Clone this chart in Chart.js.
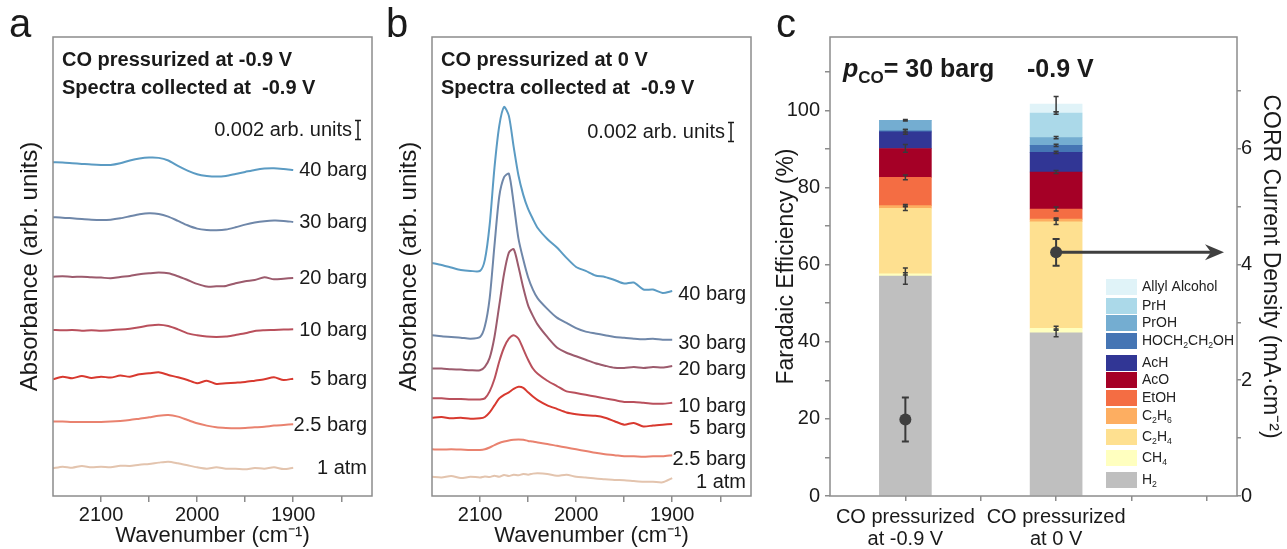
<!DOCTYPE html>
<html lang="en">
<head>
<meta charset="UTF-8" />
<title>CO pressure: IR spectra and Faradaic efficiency</title>
<script src="https://cdn.jsdelivr.net/npm/chart.js"></script>
<style>
  body { margin: 0; background: #fff; }
  #wrap { position: relative; width: 1287px; height: 549px; overflow: hidden; }
  canvas { position: absolute; top: 0; }
  #chartA { left: 0; }
  #chartB { left: 379px; }
  #chartC { left: 770px; }
</style>
</head>
<body>
<div id="wrap">
  <canvas id="chartA" width="390" height="549"></canvas>
  <canvas id="chartB" width="390" height="549"></canvas>
  <canvas id="chartC" width="517" height="549"></canvas>
</div>

<script>
  const FONT = "'Liberation Sans', Arial, sans-serif";
  const INK = '#1a1a1a';
  const FRAME = '#8c8c8c';
  Chart.defaults.font.family = FONT;
  Chart.defaults.color = INK;

  // ---- panels a and b: offset spectra, values in 1e-3 arb. units
  const traceLabels = ['40 barg', '30 barg', '20 barg', '10 barg', '5 barg', '2.5 barg', '1 atm'];
  const traceColors = ['#5b9bc3', '#6f87a9', '#9c5b6d', '#b9505c', '#d8392f', '#e9826f', '#e3c4ae'];
  const wnTickVals = [2100, 2050, 2000, 1950, 1900, 1850];

  const wnA = [2150, 2140, 2130, 2120, 2110, 2100, 2090, 2080, 2070, 2060, 2050, 2040, 2030,
               2020, 2010, 2000, 1990, 1980, 1970, 1960, 1950, 1940, 1930, 1920, 1910, 1900];
  const a40 = [34.90, 34.87, 34.80, 34.73, 34.66, 34.62, 34.62, 34.80, 35.08, 35.29, 35.39, 35.36, 35.08,
               34.52, 34.03, 33.65, 33.47, 33.40, 33.47, 33.68, 33.89, 34.10, 34.24, 34.27, 34.20, 34.10];
  const a30 = [29.15, 29.11, 29.04, 28.97, 28.90, 28.87, 28.90, 29.04, 29.25, 29.46, 29.57, 29.50, 29.22,
               28.77, 28.31, 27.96, 27.82, 27.79, 27.86, 28.10, 28.38, 28.59, 28.73, 28.80, 28.77, 28.66];
  const a20 = [22.94, 22.98, 22.91, 22.94, 22.87, 22.84, 22.77, 22.91, 23.01, 23.19, 23.29, 23.36, 23.29,
               22.98, 22.59, 22.18, 21.90, 21.93, 21.97, 22.25, 22.46, 22.59, 22.87, 22.66, 22.73, 22.80];
  const a10 = [17.36, 17.33, 17.36, 17.29, 17.33, 17.29, 17.33, 17.40, 17.50, 17.64, 17.82, 17.92, 17.78,
               17.43, 17.01, 16.81, 16.67, 16.63, 16.67, 16.84, 17.01, 17.26, 17.33, 17.36, 17.40, 17.43];
  const a5 = [12.20, 12.48, 12.31, 12.55, 12.34, 12.48, 12.38, 12.59, 12.48, 12.73, 12.83, 12.94, 12.66,
              12.41, 12.13, 11.79, 12.06, 11.72, 11.79, 11.85, 11.92, 12.06, 12.20, 12.41, 12.13, 12.27];
  const a2_5 = [7.78, 7.78, 7.74, 7.74, 7.74, 7.74, 7.78, 7.85, 7.95, 8.09, 8.23, 8.40, 8.47,
                8.30, 7.95, 7.60, 7.36, 7.18, 7.11, 7.08, 7.11, 7.18, 7.25, 7.36, 7.43, 7.50];
  const a1 = [2.89, 3.07, 2.96, 3.14, 3.00, 3.07, 3.00, 3.17, 3.14, 3.28, 3.35, 3.49, 3.59,
              3.42, 3.21, 3.00, 2.86, 3.00, 2.86, 2.86, 2.79, 2.93, 2.86, 3.00, 2.82, 2.96];

  const wnB = [2150, 2140, 2130, 2120, 2110, 2100, 2095, 2090, 2085, 2080, 2075, 2070, 2065, 2060, 2055, 2050,
               2045, 2040, 2030, 2020, 2010, 2000, 1990, 1980, 1970, 1960, 1950, 1940, 1930, 1920, 1910, 1900];
  const b40 = [24.37, 24.16, 23.90, 23.64, 23.54, 23.54, 24.69, 28.35, 34.31, 38.70, 40.69, 39.75, 36.51, 33.52, 31.49, 30.02,
               28.97, 28.03, 26.88, 25.99, 24.90, 23.95, 23.54, 23.06, 22.91, 22.59, 22.22, 22.32, 21.59, 21.59, 21.23, 21.44];
  const b30 = [16.82, 16.71, 16.63, 16.56, 16.45, 16.63, 17.74, 20.67, 26.18, 31.32, 33.34, 33.71, 30.59, 26.91, 24.72, 22.88,
               21.59, 20.67, 19.57, 18.65, 18.11, 17.55, 17.19, 17.00, 16.82, 16.63, 16.56, 16.45, 16.38, 16.45, 16.34, 16.34];
  const b20 = [13.33, 13.33, 13.25, 13.22, 13.15, 13.15, 13.51, 14.44, 16.63, 19.94, 23.24, 25.45, 25.82, 23.97, 21.78, 19.94,
               18.84, 17.92, 16.63, 15.53, 14.98, 14.61, 14.25, 13.88, 13.63, 13.41, 13.39, 13.49, 13.39, 13.49, 13.44, 13.60];
  const b10 = [10.21, 10.21, 10.14, 10.14, 10.10, 10.10, 10.21, 10.94, 12.23, 14.07, 15.53, 16.45, 16.82, 16.45, 15.36, 14.25,
               13.33, 12.78, 12.05, 11.50, 10.94, 10.77, 10.58, 10.40, 10.21, 10.03, 9.84, 9.84, 9.74, 9.65, 9.65, 9.74];
  const b5 = [8.19, 8.26, 8.12, 8.19, 8.09, 8.12, 8.26, 8.74, 9.48, 10.21, 10.58, 10.84, 11.20, 11.42, 11.31, 10.84,
              10.40, 10.03, 9.48, 9.11, 8.74, 8.56, 8.45, 8.38, 8.19, 7.82, 7.46, 7.64, 7.27, 7.38, 7.46, 7.53];
  const b2_5 = [4.88, 4.85, 4.88, 4.85, 4.81, 4.81, 4.88, 5.07, 5.32, 5.54, 5.69, 5.81, 5.88, 5.91, 5.88, 5.76,
                5.69, 5.59, 5.44, 5.25, 5.07, 4.88, 4.71, 4.52, 4.37, 4.27, 4.15, 4.15, 4.11, 4.15, 4.15, 4.27];
  const b1 = [2.01, 1.94, 2.09, 1.87, 2.01, 1.94, 2.05, 1.98, 2.12, 2.01, 2.20, 2.09, 2.23, 2.16, 2.31, 2.23,
              2.34, 2.38, 2.31, 2.12, 2.23, 2.01, 1.94, 1.83, 1.76, 1.68, 1.65, 1.57, 1.50, 1.50, 1.43, 1.87];

  // ---- panel c: Faradaic efficiency (%) per product, CORR current density (mA cm-2)
  const categories = [['CO pressurized', 'at -0.9 V'], ['CO pressurized', 'at 0 V']];
  const catPos = [1, 2];
  const products = ['H2', 'CH4', 'C2H4', 'C2H6', 'EtOH', 'AcO', 'AcH', 'HOCH2CH2OH', 'PrOH', 'PrH', 'Allyl Alcohol'];
  const productColors = ['#bfbfbf', '#ffffbf', '#fee090', '#fdae61', '#f46d43', '#a50026',
                         '#313695', '#4575b4', '#74add1', '#abd9e9', '#e0f3f8'];
  const fe1 = [57.0, 0.6, 17.0, 0.7, 7.3, 7.5, 4.3, 0.3, 2.7, 0, 0];
  const fe2 = [42.3, 1.2, 27.6, 0.7, 2.6, 9.6, 5.1, 1.8, 2.0, 6.4, 2.3];
  const feErr1 = [2.1, 0.3, 0.6, 0.3, 0.6, 1.0, 0.6, 0.3, 0.2, 0, 0];
  const feErr2 = [1.0, 0.5, 0.7, 0.3, 0.5, 0.4, 0.3, 0.3, 0.3, 0.3, 2.0];
  const jCorr = [1.32, 4.21];
  const jErr = [0.38, 0.23];
  const feTickVals = [0, 10, 20, 30, 40, 50, 60, 70, 80, 90, 100, 110];
  const jTickVals = [0, 1, 2, 3, 4, 5, 6, 7];

  function errBar(ctx, x, y0, y1, cap) {
    ctx.beginPath();
    ctx.moveTo(x, y0); ctx.lineTo(x, y1);
    ctx.moveTo(x - cap, y0); ctx.lineTo(x + cap, y0);
    ctx.moveTo(x - cap, y1); ctx.lineTo(x + cap, y1);
    ctx.stroke();
  }

  // draws formula text with digits as subscripts (C2H4 -> C₂H₄)
  function chemText(ctx, str, x, y, size) {
    let cx = x;
    for (let i = 0; i < str.length; i++) {
      const ch = str[i];
      const sub = /[0-9]/.test(ch) && i > 0 && /[A-Za-z]/.test(str[i - 1]);
      ctx.font = (sub ? size * 0.62 : size) + 'px ' + FONT;
      ctx.fillText(ch, cx, sub ? y + size * 0.3 : y);
      cx += ctx.measureText(ch).width;
    }
  }

  function spectraChart(id, letter, wn, traces, titleLines, deco) {
    const datasets = traces.map((vals, i) => ({
      label: traceLabels[i],
      data: wn.map((w, k) => ({ x: w, y: vals[k] })),
      borderColor: traceColors[i],
      borderWidth: 2,
      pointRadius: 0,
      tension: 0.25,
      fill: false
    }));

    const decoPlugin = {
      id: 'deco',
      afterDraw(chart) {
        const { ctx, chartArea: ca, scales: { y } } = chart;
        ctx.save();
        ctx.strokeStyle = FRAME;
        ctx.lineWidth = 1.5;
        ctx.strokeRect(ca.left, ca.top, ca.right - ca.left, ca.bottom - ca.top);

        ctx.fillStyle = INK;
        ctx.textAlign = 'left';
        ctx.textBaseline = 'alphabetic';
        ctx.font = '40px ' + FONT;
        ctx.fillText(letter, deco.letterX, 37);

        ctx.textBaseline = 'middle';
        ctx.font = 'bold 20px ' + FONT;
        titleLines.forEach((t, i) => ctx.fillText(t, ca.left + 9, 60 + i * 28));

        // 0.002 scale bar
        const bx = ca.right - deco.barGap;
        const half = Math.abs(y.getPixelForValue(2) - y.getPixelForValue(0)) / 2;
        ctx.font = '20px ' + FONT;
        ctx.textAlign = 'right';
        ctx.fillText('0.002 arb. units', bx - 6, deco.barY);
        ctx.strokeStyle = INK;
        ctx.lineWidth = 1.5;
        errBar(ctx, bx, deco.barY - half, deco.barY + half, 3);

        traces.forEach((vals, i) => {
          const py = y.getPixelForValue(vals[vals.length - 1]) + deco.labelDy;
          ctx.fillText(traceLabels[i], ca.right - 5, py);
        });
        ctx.restore();
      }
    };

    return new Chart(document.getElementById(id), {
      type: 'line',
      data: { datasets },
      options: {
        responsive: false,
        animation: false,
        devicePixelRatio: 1,
        layout: { padding: { top: 37, right: 18, left: 0, bottom: 0 } },
        plugins: { legend: { display: false }, tooltip: { enabled: false } },
        scales: {
          x: {
            type: 'linear', reverse: true, min: 1818, max: 2150,
            afterFit: s => { s.height = 53; },
            afterBuildTicks: s => { s.ticks = wnTickVals.map(v => ({ value: v })); },
            ticks: {
              autoSkip: false, maxRotation: 0, padding: 1, color: INK,
              font: { size: 20 },
              callback: v => (v % 100 === 0 ? String(v) : '')
            },
            grid: { drawOnChartArea: false, tickLength: 6, color: FRAME, lineWidth: 1.5 },
            border: { display: false },
            title: {
              display: true, text: 'Wavenumber (cm⁻¹)', color: INK,
              font: { size: 22 }, padding: { top: 0, bottom: 0 }
            }
          },
          y: {
            min: 0, max: 48,
            afterFit: s => { s.width = 53; },
            ticks: { display: false },
            grid: { display: false },
            border: { display: false },
            title: {
              display: true, text: 'Absorbance (arb. units)', color: INK,
              font: { size: 24 }, padding: { top: 16, bottom: 0 }
            }
          }
        }
      },
      plugins: [decoPlugin]
    });
  }

  spectraChart('chartA', 'a', wnA, [a40, a30, a20, a10, a5, a2_5, a1],
    ['CO pressurized at -0.9 V', 'Spectra collected at  -0.9 V'],
    { letterX: 9, barGap: 14, barY: 130, labelDy: 1 });

  spectraChart('chartB', 'b', wnB, [b40, b30, b20, b10, b5, b2_5, b1],
    ['CO pressurized at 0 V', 'Spectra collected at  -0.9 V'],
    { letterX: 7, barGap: 20, barY: 132, labelDy: 4 });

  // ---- panel c
  const feDatasets = products.map((p, i) => ({
    type: 'bar',
    label: p,
    data: catPos.map((c, k) => ({ x: c, y: (k === 0 ? fe1 : fe2)[i] })),
    backgroundColor: productColors[i],
    borderWidth: 0,
    barThickness: 52,
    stack: 'fe',
    yAxisID: 'y',
    order: 1
  }));

  const jDataset = {
    type: 'scatter',
    label: 'CORR current density',
    data: catPos.map((c, k) => ({ x: c, y: jCorr[k] })),
    yAxisID: 'y2',
    pointRadius: 6,
    pointBackgroundColor: '#3f3f3f',
    pointBorderWidth: 0,
    order: 0
  };

  const legendRows = [287, 306, 323, 341, 363, 380, 398, 416, 437, 458, 480];

  const fePlugin = {
    id: 'feDeco',
    beforeDatasetDraw(chart, args) {
      if (args.meta.type !== 'scatter') return;
      const { ctx, chartArea: ca, scales: { x, y, y2 } } = chart;
      ctx.save();
      ctx.strokeStyle = '#3a3a3a';
      ctx.lineWidth = 1.5;
      [fe1, fe2].forEach((fe, k) => {
        const err = k === 0 ? feErr1 : feErr2;
        const px = x.getPixelForValue(catPos[k]);
        let cum = 0;
        fe.forEach((v, i) => {
          cum += v;
          if (v <= 0 || err[i] <= 0) return;
          errBar(ctx, px, y.getPixelForValue(cum - err[i]), y.getPixelForValue(cum + err[i]), 2.5);
        });
      });
      ctx.lineWidth = 2;
      jCorr.forEach((j, k) => {
        errBar(ctx, x.getPixelForValue(catPos[k]), y2.getPixelForValue(j - jErr[k]),
               y2.getPixelForValue(j + jErr[k]), 3.5);
      });
      // arrow pointing to the current density axis
      const ay = y2.getPixelForValue(jCorr[1]);
      const ax0 = x.getPixelForValue(catPos[1]);
      const tip = ca.right - 13;
      ctx.strokeStyle = '#3f3f3f';
      ctx.fillStyle = '#3f3f3f';
      ctx.lineWidth = 3;
      ctx.beginPath(); ctx.moveTo(ax0, ay); ctx.lineTo(tip - 10, ay); ctx.stroke();
      ctx.beginPath();
      ctx.moveTo(tip, ay); ctx.lineTo(tip - 19, ay - 8); ctx.lineTo(tip - 13, ay);
      ctx.lineTo(tip - 19, ay + 8); ctx.closePath(); ctx.fill();
      ctx.restore();
    },
    afterDraw(chart) {
      const { ctx, chartArea: ca } = chart;
      ctx.save();
      ctx.strokeStyle = FRAME;
      ctx.lineWidth = 1.5;
      ctx.strokeRect(ca.left, ca.top, ca.right - ca.left, ca.bottom - ca.top);

      ctx.fillStyle = INK;
      ctx.textAlign = 'left';
      ctx.textBaseline = 'alphabetic';
      ctx.font = '40px ' + FONT;
      ctx.fillText('c', 6, 37);

      // header: p_CO = 30 barg   -0.9 V
      let tx = ca.left + 13;
      ctx.font = 'italic bold 25px ' + FONT;
      ctx.fillText('p', tx, 77);
      tx += ctx.measureText('p').width;
      ctx.font = 'bold 17px ' + FONT;
      ctx.fillText('CO', tx, 83);
      tx += ctx.measureText('CO').width;
      ctx.font = 'bold 25px ' + FONT;
      ctx.fillText('= 30 barg', tx, 77);
      ctx.fillText('-0.9 V', ca.left + 197, 77);

      // legend, top row = last product
      const bx = ca.right - 131;
      ctx.textBaseline = 'middle';
      products.slice().reverse().forEach((p, r) => {
        const i = products.length - 1 - r;
        const cy = legendRows[r];
        ctx.fillStyle = productColors[i];
        ctx.fillRect(bx, cy - 8, 31, 16);
        ctx.fillStyle = '#222';
        chemText(ctx, p, bx + 36, cy, 14);
      });
      ctx.restore();
    }
  };

  new Chart(document.getElementById('chartC'), {
    type: 'bar',
    data: { datasets: [...feDatasets, jDataset] },
    options: {
      responsive: false,
      animation: false,
      devicePixelRatio: 1,
      layout: { padding: { top: 37, right: 0, left: 0, bottom: 0 } },
      plugins: { legend: { display: false }, tooltip: { enabled: false } },
      scales: {
        x: {
          type: 'linear', min: 0.5, max: 3.2, offset: false,
          afterFit: s => { s.height = 53; },
          afterBuildTicks: s => { s.ticks = [1, 1.5, 2, 2.5, 3].map(v => ({ value: v })); },
          ticks: {
            autoSkip: false, maxRotation: 0, minRotation: 0, padding: 5, color: INK,
            font: { size: 20, lineHeight: 1.1 },
            callback: v => { const k = catPos.indexOf(v); return k >= 0 ? categories[k] : ''; }
          },
          grid: { offset: false, drawOnChartArea: false, tickLength: 5, color: FRAME, lineWidth: 1.5 },
          border: { display: false }
        },
        y: {
          stacked: true, min: 0, max: 119,
          afterFit: s => { s.width = 60; },
          afterBuildTicks: s => { s.ticks = feTickVals.map(v => ({ value: v })); },
          ticks: { padding: 5, color: INK, font: { size: 20 }, callback: v => (v % 20 === 0 ? String(v) : '') },
          grid: { drawOnChartArea: false, tickLength: 5, color: FRAME, lineWidth: 1.5 },
          border: { display: false },
          title: {
            display: true, text: 'Faradaic Efficiency (%)', color: INK,
            font: { size: 23 }, padding: { top: 3, bottom: 0 }
          }
        },
        y2: {
          position: 'right', min: 0, max: 7.93,
          afterFit: s => { s.width = 50; },
          afterBuildTicks: s => { s.ticks = jTickVals.map(v => ({ value: v })); },
          ticks: { padding: 0, color: INK, font: { size: 20 }, callback: v => (v % 2 === 0 ? String(v) : '') },
          grid: { drawOnChartArea: false, tickLength: 4, color: FRAME, lineWidth: 1.5 },
          border: { display: false },
          title: {
            display: true, text: 'CORR Current Density (mA·cm⁻²)', color: INK,
            font: { size: 23 }, padding: { top: 3, bottom: 0 }
          }
        }
      }
    },
    plugins: [fePlugin]
  });
</script>
</body>
</html>
